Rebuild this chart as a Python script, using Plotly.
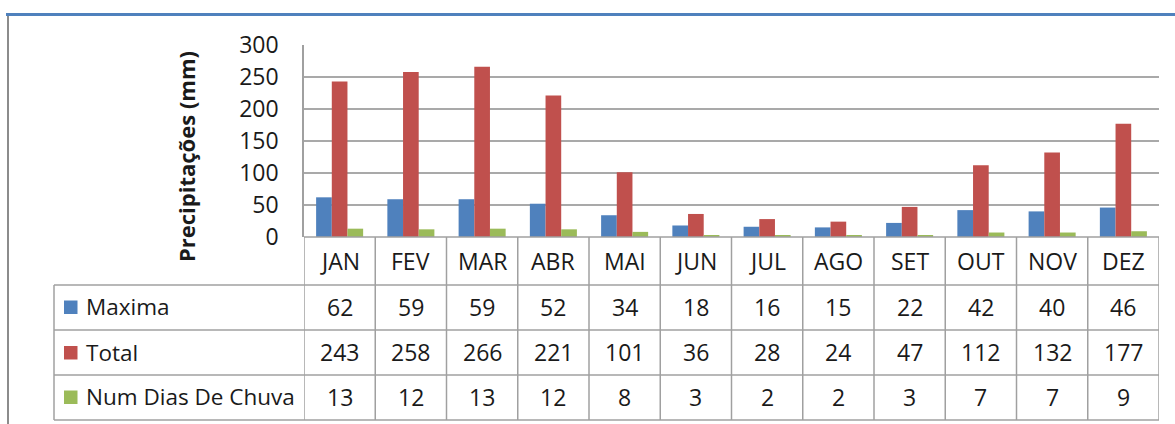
import plotly.graph_objects as go

W, H = 1175, 424

months = ["JAN", "FEV", "MAR", "ABR", "MAI", "JUN", "JUL", "AGO", "SET", "OUT", "NOV", "DEZ"]
maxima = [62, 59, 59, 52, 34, 18, 16, 15, 22, 42, 40, 46]
total = [243, 258, 266, 221, 101, 36, 28, 24, 47, 112, 132, 177]
num_dias = [13, 12, 13, 12, 8, 3, 2, 2, 3, 7, 7, 9]

series_names = ["Maxima", "Total", "Num Dias De Chuva"]
series_values = [maxima, total, num_dias]
series_colors = ["#4F81BD", "#C0504D", "#9BBB59"]

y_ticks = [0, 50, 100, 150, 200, 250, 300]
y_title = "Precipitações (mm)"

FONT = "Open Sans"
TXT = "#1a1a1a"
GRID = "#A9A9A9"
FS = 23


def px(x):
    return x / W


def py(y):
    return 1 - y / H


plot_left, plot_right = 304, 1159
plot_top, plot_bottom = 45, 237

fig = go.Figure()
for name, vals, col in zip(series_names, series_values, series_colors):
    fig.add_trace(go.Bar(x=months, y=vals, name=name, marker=dict(color=col, line=dict(width=0))))

shapes = []
annotations = []

# y-axis title
annotations.append(dict(text="<b>" + y_title + "</b>", x=px(186), y=py(157), xref="paper", yref="paper",
                        textangle=-90, showarrow=False, font=dict(family=FONT, size=22, color=TXT),
                        xanchor="center", yanchor="middle"))

# month header row
for m in months:
    annotations.append(dict(text=m, x=m, y=py(261), xref="x", yref="paper", showarrow=False,
                            font=dict(family=FONT, size=FS, color=TXT), xanchor="center", yanchor="middle"))

row_centers = [306.5, 352, 396.5]
for name, vals, col, yc in zip(series_names, series_values, series_colors, row_centers):
    shapes.append(dict(type="rect", xref="paper", yref="paper", x0=px(64), x1=px(77.5),
                       y0=py(yc - 6), y1=py(yc + 7.5), fillcolor=col, line=dict(width=0)))
    annotations.append(dict(text=name, x=px(84), y=py(yc), xref="paper", yref="paper", showarrow=False,
                            font=dict(family=FONT, size=22.5, color=TXT), xanchor="left", yanchor="middle"))
    for m, v in zip(months, vals):
        annotations.append(dict(text=str(v), x=m, y=py(yc), xref="x", yref="paper", showarrow=False,
                                font=dict(family=FONT, size=FS, color=TXT), xanchor="center", yanchor="middle"))

LINE = dict(color="#A0A0A0", width=1.5)
# horizontal table lines
shapes.append(dict(type="line", xref="paper", yref="paper", x0=px(plot_left), x1=px(plot_right),
                   y0=py(plot_bottom), y1=py(plot_bottom), line=LINE))
for yy in [285, 330, 375, 420]:
    shapes.append(dict(type="line", xref="paper", yref="paper", x0=px(54), x1=px(plot_right),
                       y0=py(yy), y1=py(yy), line=LINE))
# vertical table lines at category boundaries
for i in range(len(months) + 1):
    shapes.append(dict(type="line", xref="x", yref="paper", x0=i - 0.5, x1=i - 0.5,
                       y0=py(plot_bottom), y1=py(420), line=LINE))
shapes.append(dict(type="line", xref="paper", yref="paper", x0=px(54), x1=px(54),
                   y0=py(285), y1=py(420), line=LINE))

# outer frame
shapes.append(dict(type="line", xref="paper", yref="paper", x0=px(6), x1=1, y0=py(14.5), y1=py(14.5),
                   line=dict(color="#4F81BD", width=3)))
shapes.append(dict(type="line", xref="paper", yref="paper", x0=px(8), x1=px(8), y0=py(16), y1=0,
                   line=dict(color="#8C8C8C", width=2)))

fig.update_layout(
    width=W, height=H,
    margin=dict(l=0, r=0, t=0, b=0, autoexpand=False),
    paper_bgcolor="white", plot_bgcolor="white",
    showlegend=False,
    barmode="group", bargap=0.34, bargroupgap=0,
    shapes=shapes, annotations=annotations,
    xaxis=dict(domain=[px(plot_left), px(plot_right)], range=[-0.5, 11.5], showticklabels=False,
               showgrid=False, zeroline=False, showline=False, fixedrange=True, automargin=False),
    yaxis=dict(domain=[py(plot_bottom), py(plot_top)], range=[0, 300], tickvals=y_ticks,
               showgrid=True, gridcolor=GRID, gridwidth=1.5, zeroline=False,
               showline=True, linecolor="#A0A0A0", linewidth=1.5, ticks="", automargin=False,
               ticklabelstandoff=19, tickfont=dict(family=FONT, size=FS, color=TXT), fixedrange=True),
)

fig.write_html("out.html", config={"displayModeBar": False},
               post_script="document.body.style.margin='0';document.body.style.overflow='hidden';")
